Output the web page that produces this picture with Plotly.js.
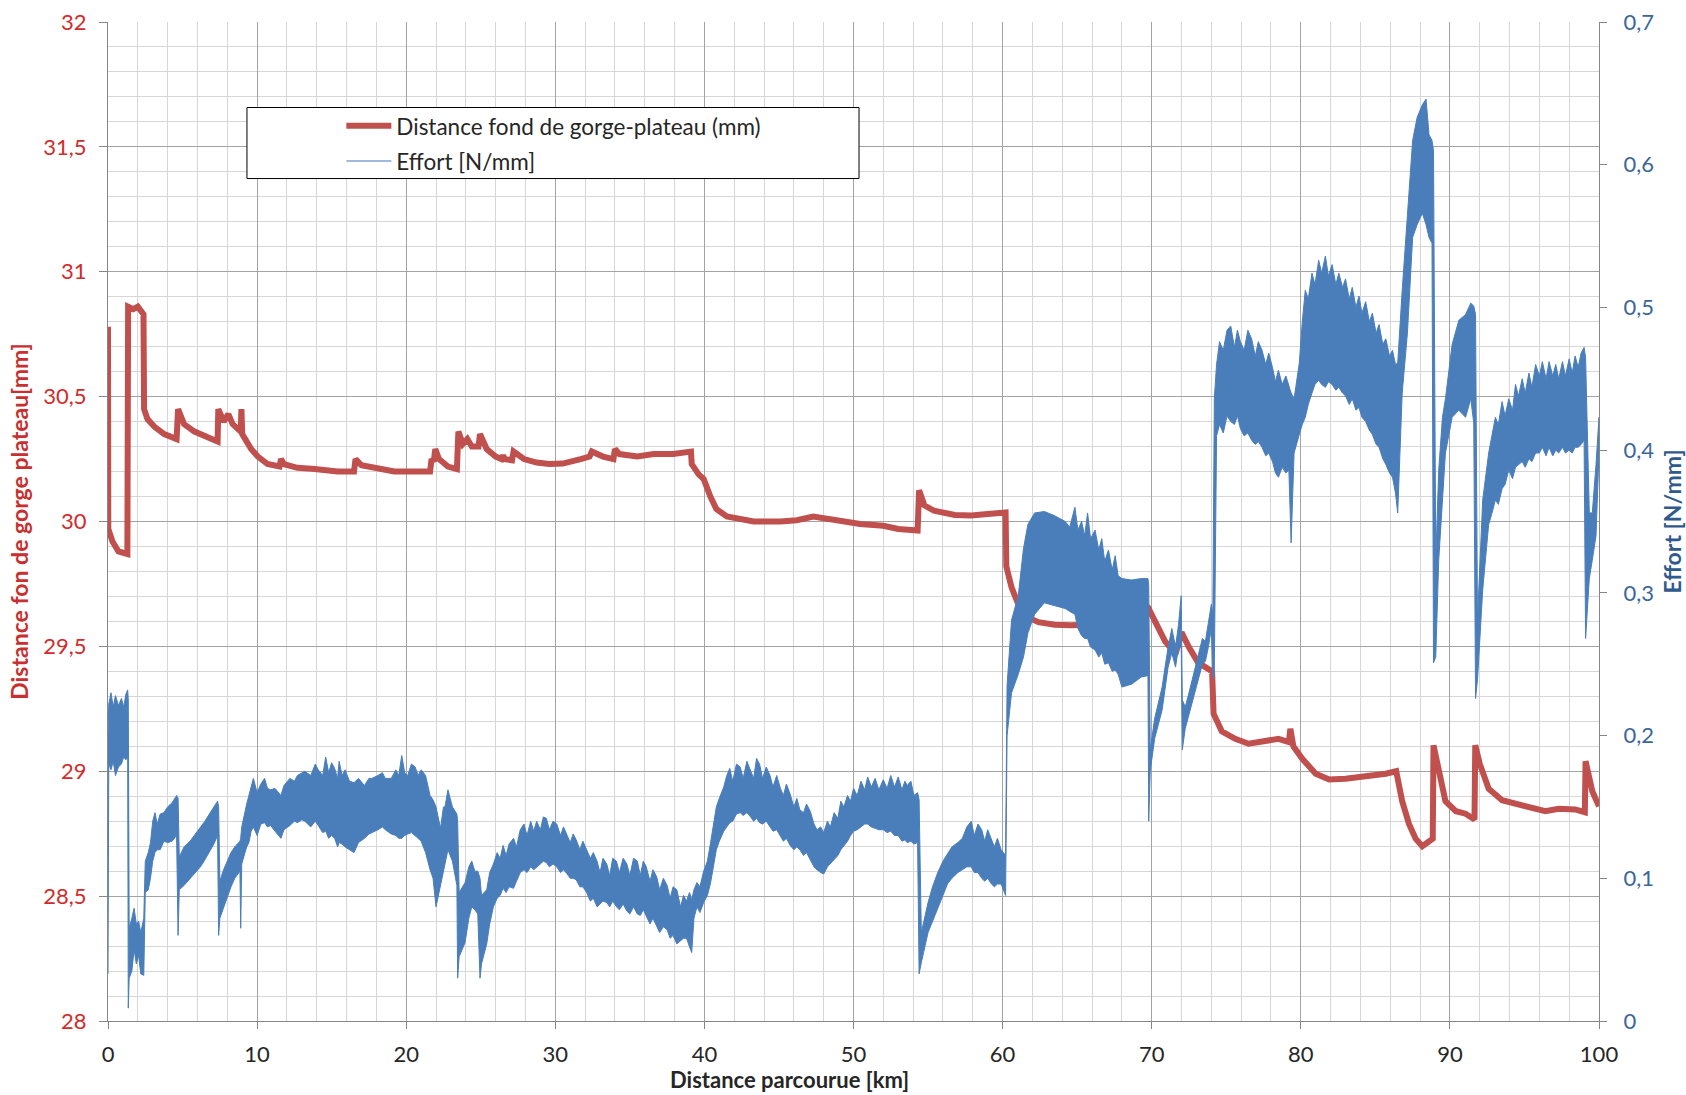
<!DOCTYPE html>
<html>
<head>
<meta charset="utf-8">
<script src="https://cdn.plot.ly/plotly-3.0.1.min.js"></script>
<style>
html,body{margin:0;padding:0;background:#fff;}
#chart{width:1686px;height:1095px;}
</style>
</head>
<body>
<div id="chart"></div>
<script>
// ---- Distance fond de gorge-plateau (mm), left axis ----
const redX = [0,0.02,0.3,0.7,1.3,1.35,1.7,2.0,2.38,2.42,2.65,3.1,3.77,4.6,4.7,5.1,5.8,6.5,7.35,7.4,7.76,8.07,8.36,8.9,8.95,9.0,9.6,10.05,10.7,11.5,11.6,11.8,12.7,13.86,15.4,16.5,16.6,17.0,18.1,19.2,21.6,21.7,21.85,21.95,22.2,22.8,23.4,23.5,23.8,24.1,24.4,24.85,24.95,25.4,26.0,26.4,26.5,26.6,27.1,27.2,27.9,28.75,29.6,30.5,31.7,32.3,32.45,33.2,33.9,34.0,34.3,35.5,36.6,37.9,39.1,39.15,39.6,39.95,40.4,40.8,41.5,42.4,43.3,45.1,46.2,47.3,48.4,49.55,50.45,52,53,54.3,54.4,54.75,55.4,56.8,57.9,59,60.2,60.25,60.6,61,61.7,62.4,63.5,64.6,66,67,68,69,69.8,70.2,70.9,71.6,72.0,72.5,73.1,74.05,74.15,74.7,75.6,76.5,77.6,78.5,79.2,79.3,79.5,80.1,81,81.9,83,84.6,85.7,86.4,86.8,87.25,87.7,88.15,88.6,88.85,88.9,89.3,89.7,90.4,91.05,91.65,91.7,92.0,92.6,93.5,95.1,96.4,97.3,98.4,99.05,99.1,99.55,100];
const redY = [30.78,29.97,29.92,29.88,29.87,30.86,30.85,30.86,30.83,30.45,30.41,30.38,30.35,30.33,30.45,30.39,30.36,30.34,30.32,30.45,30.40,30.43,30.39,30.36,30.45,30.35,30.29,30.26,30.23,30.22,30.25,30.23,30.215,30.21,30.2,30.2,30.25,30.225,30.21,30.2,30.2,30.25,30.24,30.29,30.25,30.22,30.21,30.36,30.31,30.33,30.30,30.30,30.35,30.29,30.26,30.25,30.265,30.25,30.245,30.28,30.25,30.236,30.23,30.232,30.25,30.26,30.28,30.26,30.25,30.29,30.27,30.26,30.27,30.27,30.28,30.23,30.19,30.17,30.1,30.05,30.02,30.01,30.0,30.0,30.005,30.02,30.01,30.0,29.99,29.983,29.97,29.964,30.125,30.065,30.043,30.026,30.024,30.03,30.036,29.82,29.736,29.676,29.616,29.597,29.587,29.585,29.585,29.59,29.6,29.62,29.65,29.6,29.52,29.47,29.556,29.496,29.436,29.40,29.23,29.16,29.13,29.11,29.124,29.13,29.117,29.17,29.10,29.05,28.99,28.967,28.97,28.98,28.99,29.0,28.88,28.79,28.73,28.70,28.72,28.73,29.104,28.98,28.88,28.84,28.83,28.807,29.104,29.03,28.93,28.884,28.86,28.84,28.85,28.847,28.836,29.04,28.92,28.86];

// ---- Effort [N/mm], right axis: distance, upper and lower envelope of the oscillating signal ----
const effX = [0,0.05,0.2,0.35,0.5,0.7,0.9,1.05,1.2,1.32,1.36,
1.42,1.6,1.75,1.9,2.05,2.2,2.4,
2.5,2.7,2.85,3.0,3.15,3.3,3.5,3.75,4.0,4.3,4.6,4.7,
4.78,5.1,5.5,5.8,6.2,6.5,6.8,7.1,7.35,7.42,
7.5,7.75,8.0,8.25,8.5,8.85,8.9,8.97,9.3,9.45,9.6,9.75,10.0,10.25,10.5,10.7,10.9,11.2,11.6,11.8,12.2,12.5,12.7,13.0,13.2,13.6,13.9,14.1,14.4,14.6,14.8,15.0,15.2,15.4,15.5,15.7,15.9,16.2,16.5,16.8,17.2,17.5,17.7,18.1,18.4,18.6,19.0,19.3,19.5,19.7,19.9,20.1,20.35,20.6,20.8,21.0,21.3,21.6,21.8,22.0,22.3,22.5,22.6,22.8,23.1,23.4,23.45,
23.55,23.75,23.95,24.2,24.4,24.6,24.8,24.95,
25.05,25.4,25.6,25.85,26.1,26.3,26.5,26.7,26.9,27.2,27.4,27.65,27.9,28.1,28.35,28.55,28.75,29.0,29.2,29.4,29.6,29.85,30.1,30.35,30.55,30.8,31.0,31.2,31.4,31.65,31.85,32.1,32.35,32.55,32.8,33.0,33.2,33.45,33.65,33.85,34.1,34.3,34.55,34.8,35.0,35.25,35.5,35.7,35.9,36.1,36.35,36.55,36.8,37.0,37.25,37.5,37.7,37.9,38.15,38.4,38.6,38.8,39.0,39.15,
39.3,39.5,39.7,39.95,40.2,40.4,40.6,40.8,41.0,41.3,41.5,41.7,41.9,42.15,42.4,42.6,42.85,43.1,43.3,43.5,43.7,43.9,44.15,44.4,44.6,44.85,45.1,45.3,45.5,45.75,46.0,46.2,46.4,46.65,46.85,47.1,47.35,47.55,47.8,48.0,48.25,48.45,48.7,48.95,49.15,49.35,49.6,49.8,50.0,50.25,50.5,50.75,50.95,51.2,51.45,51.7,52.0,52.25,52.5,52.75,53.0,53.25,53.45,53.6,53.85,54.05,54.3,54.4,
54.55,55.0,55.3,55.65,56.0,56.3,56.6,57.0,57.3,57.6,57.9,58.1,58.35,58.6,58.8,59.0,59.25,59.45,59.65,59.9,60.2,
60.3,60.6,61.05,61.4,61.7,62.15,62.8,63.5,64.2,64.5,64.85,65.05,65.3,65.5,65.7,65.9,66.2,66.45,66.65,66.85,67.1,67.35,67.55,67.75,68.0,68.65,69.3,69.75,69.8,
69.9,70.2,70.7,71.1,71.35,71.6,71.8,71.98,72.05,72.25,72.5,72.9,73.4,73.6,73.8,74.0,74.1,74.2,
74.35,74.55,74.8,75.05,75.3,75.55,75.75,75.95,76.2,76.45,76.7,76.95,77.15,77.4,77.65,77.85,78.1,78.3,78.5,78.75,79.0,79.2,79.35,
79.55,79.9,80.1,80.3,80.5,80.75,80.95,81.2,81.4,81.65,81.85,82.1,82.35,82.55,82.8,83.0,83.25,83.45,83.7,83.9,84.1,84.35,84.6,84.8,85.05,85.25,85.5,85.7,85.95,86.15,86.35,86.5,
86.8,87.15,87.5,87.8,88.15,88.4,88.6,88.8,88.9,
89.05,89.25,89.5,89.7,90.15,90.6,91.05,91.4,91.6,91.72,
91.85,92.2,92.6,92.8,93.05,93.25,93.5,93.7,93.95,94.2,94.4,94.6,94.85,95.05,95.3,95.5,95.75,96.0,96.2,96.45,96.65,96.9,97.1,97.3,97.55,97.75,98.0,98.2,98.4,98.6,98.8,99.0,99.1,
99.35,99.55,99.8,100.0];
const effHi = [0.20,0.222,0.230,0.220,0.228,0.221,0.226,0.220,0.229,0.232,0.225,
0.065,0.072,0.079,0.068,0.070,0.062,0.072,
0.112,0.118,0.125,0.140,0.146,0.138,0.145,0.146,0.150,0.153,0.158,0.156,
0.115,0.122,0.126,0.130,0.136,0.140,0.145,0.150,0.154,0.150,
0.098,0.106,0.112,0.118,0.122,0.126,0.128,0.136,0.152,0.158,0.165,0.170,0.160,0.166,0.170,0.163,0.162,0.163,0.158,0.165,0.170,0.168,0.172,0.174,0.175,0.172,0.180,0.176,0.172,0.185,0.174,0.181,0.177,0.170,0.182,0.172,0.176,0.168,0.167,0.170,0.165,0.170,0.170,0.172,0.174,0.170,0.170,0.176,0.172,0.186,0.174,0.172,0.180,0.178,0.172,0.176,0.172,0.158,0.155,0.150,0.135,0.150,0.150,0.162,0.150,0.145,0.140,
0.090,0.094,0.097,0.108,0.112,0.105,0.105,0.100,
0.088,0.092,0.104,0.110,0.118,0.114,0.123,0.116,0.124,0.128,0.122,0.134,0.138,0.130,0.140,0.133,0.140,0.134,0.143,0.142,0.134,0.140,0.138,0.130,0.136,0.130,0.125,0.131,0.127,0.120,0.126,0.120,0.114,0.118,0.112,0.104,0.114,0.110,0.102,0.114,0.112,0.104,0.114,0.110,0.102,0.114,0.112,0.102,0.112,0.108,0.098,0.106,0.101,0.092,0.100,0.095,0.086,0.094,0.092,0.080,0.088,0.084,0.090,0.085,
0.092,0.097,0.094,0.105,0.112,0.124,0.138,0.150,0.156,0.164,0.172,0.177,0.168,0.180,0.178,0.170,0.182,0.176,0.170,0.184,0.180,0.170,0.178,0.172,0.164,0.172,0.163,0.158,0.166,0.159,0.150,0.156,0.148,0.146,0.152,0.147,0.138,0.134,0.136,0.132,0.140,0.136,0.146,0.142,0.154,0.150,0.158,0.154,0.163,0.158,0.168,0.162,0.171,0.164,0.170,0.162,0.169,0.163,0.172,0.164,0.171,0.162,0.168,0.165,0.168,0.158,0.160,0.155,
0.062,0.083,0.094,0.104,0.112,0.117,0.122,0.125,0.128,0.136,0.140,0.130,0.138,0.134,0.126,0.134,0.128,0.122,0.128,0.120,0.116,
0.235,0.281,0.298,0.331,0.348,0.356,0.357,0.354,0.350,0.346,0.360,0.344,0.350,0.340,0.356,0.338,0.344,0.330,0.338,0.322,0.330,0.316,0.326,0.312,0.310,0.309,0.310,0.310,0.305,
0.190,0.212,0.234,0.262,0.275,0.262,0.278,0.298,0.225,0.220,0.230,0.247,0.268,0.266,0.280,0.292,0.285,0.436,
0.460,0.476,0.470,0.484,0.487,0.472,0.484,0.476,0.470,0.484,0.478,0.466,0.476,0.470,0.460,0.468,0.458,0.448,0.456,0.446,0.452,0.444,0.440,
0.436,0.461,0.490,0.512,0.506,0.524,0.516,0.533,0.524,0.536,0.522,0.530,0.516,0.524,0.514,0.520,0.506,0.514,0.500,0.508,0.496,0.504,0.490,0.496,0.482,0.488,0.474,0.478,0.466,0.470,0.460,0.461,
0.512,0.562,0.617,0.633,0.642,0.646,0.621,0.617,0.610,
0.323,0.386,0.423,0.436,0.474,0.491,0.495,0.503,0.501,0.495,
0.281,0.365,0.398,0.410,0.423,0.418,0.434,0.424,0.436,0.428,0.446,0.438,0.450,0.440,0.454,0.444,0.460,0.452,0.462,0.450,0.462,0.452,0.460,0.450,0.462,0.452,0.464,0.454,0.466,0.458,0.468,0.472,0.465,
0.356,0.356,0.390,0.423];
const effLo = [0.033,0.180,0.176,0.182,0.172,0.178,0.180,0.185,0.183,0.185,0.009,
0.030,0.035,0.050,0.040,0.046,0.033,0.032,
0.090,0.092,0.100,0.112,0.118,0.120,0.120,0.126,0.125,0.126,0.130,0.060,
0.092,0.095,0.100,0.103,0.108,0.113,0.118,0.124,0.130,0.060,
0.072,0.080,0.087,0.094,0.100,0.105,0.065,0.110,0.122,0.125,0.133,0.136,0.130,0.138,0.139,0.136,0.137,0.133,0.128,0.134,0.137,0.140,0.139,0.141,0.140,0.136,0.140,0.137,0.132,0.133,0.128,0.130,0.128,0.122,0.125,0.124,0.122,0.120,0.118,0.125,0.128,0.131,0.132,0.134,0.136,0.134,0.131,0.130,0.128,0.128,0.130,0.131,0.132,0.130,0.128,0.126,0.118,0.106,0.100,0.080,0.095,0.105,0.110,0.120,0.112,0.095,0.030,
0.045,0.050,0.055,0.072,0.080,0.078,0.075,0.030,
0.040,0.054,0.068,0.080,0.086,0.088,0.093,0.090,0.094,0.093,0.098,0.104,0.106,0.104,0.108,0.106,0.108,0.110,0.112,0.111,0.108,0.110,0.108,0.104,0.106,0.103,0.100,0.100,0.099,0.094,0.094,0.090,0.084,0.086,0.080,0.082,0.084,0.083,0.080,0.084,0.080,0.078,0.082,0.077,0.075,0.080,0.075,0.074,0.078,0.073,0.068,0.072,0.067,0.062,0.066,0.064,0.058,0.060,0.054,0.056,0.058,0.058,0.052,0.048,
0.072,0.080,0.076,0.083,0.088,0.096,0.108,0.120,0.126,0.133,0.136,0.139,0.140,0.145,0.146,0.144,0.146,0.143,0.140,0.142,0.139,0.138,0.140,0.136,0.133,0.134,0.130,0.126,0.128,0.123,0.120,0.122,0.120,0.116,0.118,0.113,0.108,0.106,0.104,0.103,0.108,0.110,0.113,0.116,0.120,0.123,0.126,0.130,0.133,0.134,0.136,0.138,0.138,0.136,0.135,0.134,0.134,0.132,0.133,0.130,0.130,0.126,0.127,0.125,0.126,0.124,0.125,0.033,
0.041,0.062,0.070,0.079,0.088,0.096,0.100,0.104,0.106,0.108,0.108,0.104,0.104,0.100,0.098,0.100,0.096,0.094,0.096,0.096,0.088,
0.200,0.230,0.243,0.255,0.272,0.285,0.293,0.291,0.289,0.287,0.285,0.275,0.270,0.268,0.268,0.262,0.260,0.255,0.258,0.250,0.251,0.245,0.246,0.243,0.234,0.236,0.241,0.242,0.140,
0.175,0.198,0.218,0.248,0.258,0.248,0.262,0.262,0.190,0.205,0.214,0.230,0.250,0.252,0.262,0.275,0.240,0.245,
0.410,0.418,0.412,0.424,0.420,0.418,0.424,0.415,0.410,0.412,0.407,0.404,0.406,0.402,0.396,0.398,0.392,0.384,0.381,0.388,0.384,0.386,0.335,
0.398,0.411,0.418,0.423,0.432,0.440,0.446,0.449,0.446,0.444,0.448,0.446,0.442,0.444,0.440,0.438,0.432,0.436,0.428,0.430,0.423,0.420,0.414,0.411,0.404,0.402,0.394,0.390,0.384,0.381,0.370,0.356,
0.440,0.482,0.549,0.558,0.566,0.558,0.549,0.545,0.251,
0.255,0.323,0.365,0.398,0.423,0.428,0.423,0.436,0.419,0.226,
0.239,0.302,0.348,0.355,0.365,0.362,0.373,0.376,0.386,0.380,0.388,0.390,0.392,0.388,0.394,0.392,0.398,0.398,0.402,0.396,0.402,0.396,0.400,0.398,0.402,0.398,0.400,0.398,0.402,0.402,0.404,0.407,0.268,
0.310,0.323,0.340,0.398];

// ---- labels ----
const redName = 'Distance fond de gorge-plateau (mm)';
const effName = 'Effort [N/mm]';
const xTitle = 'Distance parcourue [km]';
const yTitle = 'Distance fon de gorge plateau[mm]';
const y2Title = 'Effort [N/mm]';

const RED = '#C0504D';
const BLUE = '#4A7EBB';
const FONT = 'Lato, "Open Sans", sans-serif';

// polygon of the band: upper envelope forward, lower envelope backward
const polyX = effX.concat(effX.slice().reverse());
const polyY = effHi.concat(effLo.slice().reverse());

const traces = [
  {x: redX, y: redY, type: 'scatter', mode: 'lines', name: redName,
   line: {color: RED, width: 6}, yaxis: 'y', legendgroup: 'a', showlegend: true},
  {x: polyX, y: polyY, type: 'scatter', mode: 'lines', name: effName,
   fill: 'toself', fillcolor: BLUE, line: {color: BLUE, width: 1},
   yaxis: 'y2', showlegend: false, hoverinfo: 'skip'},
  {x: [null], y: [null], type: 'scatter', mode: 'lines', name: effName,
   line: {color: '#7FA3D3', width: 1.5}, yaxis: 'y2', legendgroup: 'b', showlegend: true}
];

const gridMajor = '#A3A3A3';
const gridMinor = '#D6D6D6';

const layout = {
  width: 1686, height: 1095,
  margin: {l: 108, r: 87, t: 22, b: 74},
  paper_bgcolor: '#fff', plot_bgcolor: '#fff',
  separators: ', ',
  font: {family: FONT, size: 22, color: '#262626'},
  showlegend: true,
  legend: {x: 0.1565, y: 0.9172, xanchor: 'left', yanchor: 'top',
    bgcolor: 'rgba(0,0,0,0)', borderwidth: 0, traceorder: 'grouped', tracegroupgap: 3,
    itemwidth: 45, font: {family: FONT, size: 22.5, color: '#262626'}},
  shapes: [{type: 'rect', xref: 'paper', yref: 'paper', x0: 0.0932, x1: 0.5037, y0: 0.8433, y1: 0.9144,
    fillcolor: '#fff', line: {color: '#000', width: 1}, layer: 'above'}],
  annotations: [{xref: 'paper', yref: 'paper', x: 0.4574, y: -0.0585, xanchor: 'center', yanchor: 'middle',
    showarrow: false, text: '<b>' + xTitle + '</b>', font: {family: FONT, size: 22, color: '#262626'}}],
  xaxis: {range: [0, 100], tick0: 0, dtick: 10, ticks: 'outside', ticklen: 7, tickcolor: '#868686',
    showline: true, linecolor: '#868686', linewidth: 1, zeroline: false,
    showgrid: true, gridcolor: gridMajor, gridwidth: 1,
    minor: {dtick: 2, showgrid: true, gridcolor: gridMinor, gridwidth: 1, ticks: ''},
    tickfont: {family: FONT, size: 22, color: '#262626'}, ticklabelstandoff: 7,
    automargin: false, fixedrange: true},
  yaxis: {range: [28, 32], tick0: 28, dtick: 0.5, ticks: 'outside', ticklen: 8, tickcolor: '#868686',
    showline: true, linecolor: '#868686', linewidth: 1, zeroline: false,
    showgrid: true, gridcolor: gridMajor, gridwidth: 1,
    minor: {dtick: 0.1, showgrid: true, gridcolor: gridMinor, gridwidth: 1, ticks: ''},
    tickfont: {family: FONT, size: 22, color: '#D22B2B'}, ticklabelstandoff: 8,
    title: {text: '<b>' + yTitle + '</b>', font: {family: FONT, size: 23, color: '#C8302F'}, standoff: 8},
    automargin: false, fixedrange: true},
  yaxis2: {range: [0, 0.7], tick0: 0, dtick: 0.1, overlaying: 'y', side: 'right',
    ticks: 'outside', ticklen: 7, tickcolor: '#868686',
    showline: true, linecolor: '#868686', linewidth: 1, zeroline: false, showgrid: false,
    tickfont: {family: FONT, size: 22, color: '#3B6699'}, ticklabelstandoff: 12,
    title: {text: '<b>' + y2Title + '</b>', font: {family: FONT, size: 23, color: '#2F5A8C'}, standoff: 14},
    automargin: false, fixedrange: true}
};

Plotly.newPlot('chart', traces, layout, {displayModeBar: false, staticPlot: true});
</script>
</body>
</html>
